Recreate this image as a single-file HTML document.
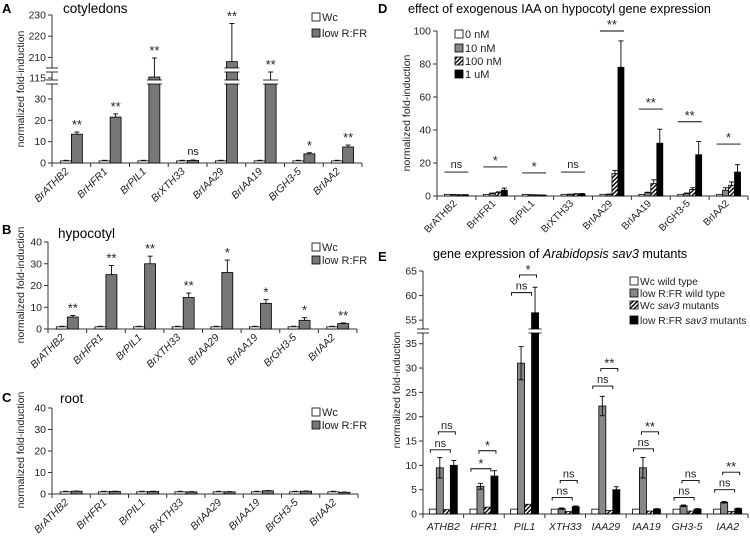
<!DOCTYPE html>
<html><head><meta charset="utf-8"><style>
body{margin:0;background:#fff;}
svg{display:block;font-family:"Liberation Sans",sans-serif;}
</style></head><body>
<svg id="fig" width="750" height="537" viewBox="0 0 750 537">
<defs><pattern id="hatch" width="3" height="3" patternUnits="userSpaceOnUse" patternTransform="rotate(45)"><rect width="3" height="3" fill="#fff"/><rect width="1.4" height="3" fill="#000"/></pattern></defs>
<text x="2" y="13" font-size="13" font-weight="bold">A</text>
<text x="63" y="13" font-size="13.5">cotyledons</text>
<text x="2" y="234" font-size="13" font-weight="bold">B</text>
<text x="58" y="238" font-size="13.5">hypocotyl</text>
<text x="2" y="402" font-size="13" font-weight="bold">C</text>
<text x="60" y="403" font-size="13.5">root</text>
<text x="378" y="13" font-size="13" font-weight="bold">D</text>
<text x="408" y="13" font-size="12.6">effect of exogenous IAA on hypocotyl gene expression</text>
<text x="378" y="261" font-size="13" font-weight="bold">E</text>
<text x="433" y="258" font-size="12.6">gene expression of <tspan font-style="italic">Arabidopsis sav3</tspan> mutants</text>
</svg>
<script>
const genesBr = ["BrATHB2","BrHFR1","BrPIL1","BrXTH33","BrIAA29","BrIAA19","BrGH3-5","BrIAA2"];
const genesE = ["ATHB2","HFR1","PIL1","XTH33","IAA29","IAA19","GH3-5","IAA2"];
// Panel A
const aWc = [1,1,1,1,1,1,1,1];
const aLow = [13.5,21.5,116,1.2,208,109,4.3,7.5];
const aLowErr = [14.5,23,209.7,1.4,226,121,4.8,8.4];
const aSig = ["**","**","**","ns","**","**","*","**"];
const aTicks = [0,10,20,30,115,210,220,230];
// Panel B
const bWc = [1,1,1,1,1,1,1,1];
const bLow = [5.5,25,30,14.5,26,11.8,4,2.5];
const bLowErr = [6.2,29.2,33.5,16.5,31.7,13.5,5.2,2.8];
const bSig = ["**","**","**","**","*","*","*","**"];
const bTicks = [0,10,20,30,40];
// Panel C
const cWc = [1,1,1,1,1,1,1,1];
const cLow = [1.3,1.2,1.2,1,1,1.5,1.3,0.8];
const cLowErr = [1.4,1.3,1.3,1.1,1.1,1.6,1.4,0.9];
const cTicks = [0,10,20,30,40];
// Panel D
const d0 = [1,1,1,1,1,1,1,1];
const d10 = [0.8,1.5,0.7,1,1,2,1.5,3.5];
const d10Err = [0.9,1.8,0.8,1.1,1.2,2.3,1.8,5];
const d100 = [0.7,2,0.6,1.2,13.5,7.5,4,6.5];
const d100Err = [0.8,2.5,0.7,1.4,15.5,9.8,5,8.5];
const d1u = [0.7,3.5,0.5,1.3,78,32,25,14.5];
const d1uErr = [0.8,4.8,0.6,1.5,94,40.5,33,19];
const dSig = ["ns","*","*","ns","**","**","**","*"];
const dSigLevel = [14.5,17.6,14,14.5,101,52.7,45,31.5];
const dTicks = [0,20,40,60,80,100];
// Panel E
const eWcWt = [1,1,1,1,1,1,1,1];
const eLowWt = [9.5,5.7,31,1.1,22.2,9.5,1.7,2.4];
const eLowWtErr = [2.1,0.6,3.4,0.15,2,2.1,0.15,0.15];
const eWcSav = [0.9,1.4,2,0.5,0.7,0.6,0.6,0.5];
const eLowSav = [10,7.8,56.5,1.5,5,1,1,1.1];
const eLowSavErr = [1,1.1,5.2,0.15,0.6,0.1,0.1,0.1];
const eSigLeft = ["ns","*","ns","ns","ns","ns","ns","ns"];
const eSigLeftLevel = [13.2,9.3,60.6,3.4,26.3,13.4,3.4,5];
const eSigRight = ["ns","*","*","ns","**","**","ns","**"];
const eSigRightLevel = [16.9,13,64.2,6.9,29.9,16.9,6.9,8.6];
const eTicks = [0,5,10,15,20,25,30,35,55,60,65];

const svg = document.getElementById('fig');
const NS = 'http://www.w3.org/2000/svg';
function mk(tag, attrs, parent){const e=document.createElementNS(NS,tag);for(const k in attrs)e.setAttribute(k,attrs[k]);(parent||svg).appendChild(e);return e;}
function makeScale(segs){return function(v){for(const s of segs){if(v>=s[0]&&v<=s[1])return s[2]+(v-s[0])/(s[1]-s[0])*(s[3]-s[2]);}
 for(let i=0;i<segs.length;i++){if(v<segs[i][0])return segs[i][2];}const s=segs[segs.length-1];return s[3];};}
function breakMark(x1,x2,y,name){const g=mk('g',{});
 
 
 mk('rect',{x:x1,y:y-2,width:x2-x1,height:4,fill:'#fff'},g);
 mk('line',{x1:x1,x2:x2,y1:y-2,y2:y-2,stroke:'#000','stroke-width':0.8},g);
 mk('line',{x1:x1,x2:x2,y1:y+2,y2:y+2,stroke:'#000','stroke-width':0.8},g);}
function axes(p){
 const g=mk('g',{});
 
 
 mk('line',{x1:p.x0,x2:p.x0,y1:p.yTop,y2:p.y0,stroke:'#333','stroke-width':1},g);
 mk('line',{x1:p.x0,x2:p.x1,y1:p.y0,y2:p.y0,stroke:'#333','stroke-width':1},g);
 p.ticks.forEach(t=>{const y=p.sy(t);mk('line',{x1:p.x0-4,x2:p.x0,y1:y,y2:y,stroke:'#333'},g);
  const tx=mk('text',{x:p.x0-6,y:y+3.5,'font-size':10.5,'text-anchor':'end',fill:'#222'},g);tx.textContent=t;
  
  });
 const gw=(p.x1-p.x0)/8;
 for(let i=0;i<=8;i++){const x=p.x0+gw*i;mk('line',{x1:x,x2:x,y1:p.y0,y2:p.y0+4,stroke:'#333'},g);}
 const yl=mk('text',{x:0,y:0,'font-size':10.5,'text-anchor':'middle',fill:'#222',transform:`translate(${p.ylx},${p.yly}) rotate(-90)`},g);
 yl.textContent='normalized fold-induction';
 
 
 return gw;}
function rect(x,y0,y1,w,fill,name){const r=mk('rect',{x:x,y:Math.min(y0,y1),width:w,height:Math.abs(y1-y0),fill:fill,stroke:'#000','stroke-width':0.8});
 
 return r;}
function err(x,yA,yB){mk('line',{x1:x,x2:x,y1:yA,y2:yB,stroke:'#000','stroke-width':0.9});mk('line',{x1:x-2.5,x2:x+2.5,y1:yB,y2:yB,stroke:'#000','stroke-width':0.9});}
function txt(x,y,s,size,anchor,extra){const t=mk('text',Object.assign({x:x,y:y,'font-size':size,'text-anchor':anchor||'middle',fill:'#222'},extra||{}));t.textContent=s;return t;}
function legend2(x,y1,y2){[['#fff','Wc',y1],['#777','low R:FR',y2]].forEach(l=>{
 const b=mk('rect',{x:x,y:l[2]-4,width:8,height:8,fill:l[0],stroke:'#000','stroke-width':0.8});
 
 
 const t=txt(x+10,l[2]+4,l[1],11,'start');
 
 });}
function twoBarPanel(p,wc,low,lowErr,sig){
 const gw=axes(p);
 genesBr.forEach((gname,i)=>{const gc=p.x0+gw*(i+0.5);
  rect(gc-11,p.y0,p.sy(wc[i]),11,'#fff','bar-wc-'+gname);
  rect(gc,p.y0,p.sy(low[i]),11,'#777','bar-lowrfr-'+gname);
  err(gc+5.5,p.sy(low[i]),p.sy(lowErr[i]));
  mk('line',{x1:gc-8,x2:gc-3,y1:p.sy(wc[i]*1.1)-0.5,y2:p.sy(wc[i]*1.1)-0.5,stroke:'#000','stroke-width':0.6});
  if(sig){const t=txt(gc+5.5,p.sy(lowErr[i])-(sig[i]==='ns'?5:3),sig[i],sig[i]==='ns'?11:13);
   
   }
  const lb=txt(0,0,gname,10.5,'end',{transform:`translate(${gc-2},${p.y0+9}) rotate(-45)`,'font-style':'italic'});
  
  });
 legend2(p.lx,p.ly1,p.ly2);}

// Panel A
const pA={name:'panel-a',x0:52,x1:362,y0:163,yTop:15,ticks:aTicks,ylx:24,yly:89,lx:312,ly1:17,ly2:33,
 sy:makeScale([[0,37,163,84],[106,121,87,72],[205,230,68,15]])};
twoBarPanel(pA,aWc,aLow,aLowErr,aSig);
breakMark(pA.x0-6,pA.x0+6,82,'axis-break-lower');
breakMark(pA.x0-6,pA.x0+6,70,'axis-break-upper');
{const gw=(pA.x1-pA.x0)/8;
 aLow.forEach((v,i)=>{const gc=pA.x0+gw*(i+0.5);
  if(v>=106)breakMark(gc-2,gc+13,82,'bar-break');
  if(v>=205)breakMark(gc-2,gc+13,70,'bar-break');});}

// Panel B
const pB={name:'panel-b',x0:48,x1:357,y0:329,yTop:242,ticks:bTicks,ylx:24,yly:285,lx:312,ly1:247,ly2:260,
 sy:makeScale([[0,40,329,242]])};
twoBarPanel(pB,bWc,bLow,bLowErr,bSig);

// Panel C
const pC={name:'panel-c',x0:52,x1:358,y0:494,yTop:408,ticks:cTicks,ylx:24,yly:450,lx:312,ly1:412,ly2:425,
 sy:makeScale([[0,40,494,408]])};
twoBarPanel(pC,cWc,cLow,cLowErr,null);

// Panel D
const pD={name:'panel-d',x0:437,x1:748,y0:196,yTop:31,ticks:dTicks,ylx:410,yly:113,sy:makeScale([[0,100,196,31]])};
{const gw=axes(pD);
 genesBr.forEach((gname,i)=>{const gc=pD.x0+gw*(i+0.5);const bw=6;const s=gc-12;
  rect(s,pD.y0,pD.sy(d0[i]),bw,'#fff','bar-0nm-'+gname);
  rect(s+bw,pD.y0,pD.sy(d10[i]),bw,'#888','bar-10nm-'+gname);
  err(s+bw*1.5,pD.sy(d10[i]),pD.sy(d10Err[i]));
  rect(s+bw*2,pD.y0,pD.sy(d100[i]),bw,'url(#hatch)','bar-100nm-'+gname);
  err(s+bw*2.5,pD.sy(d100[i]),pD.sy(d100Err[i]));
  rect(s+bw*3,pD.y0,pD.sy(d1u[i]),bw,'#000','bar-1um-'+gname);
  err(s+bw*3.5,pD.sy(d1u[i]),pD.sy(d1uErr[i]));
  const ly=pD.sy(dSigLevel[i]);
  const ln=mk('line',{x1:gc-12,x2:gc+12,y1:ly,y2:ly,stroke:'#000','stroke-width':0.9});
  
  
  const t=txt(gc,ly-(dSig[i]==='ns'?4:2),dSig[i],dSig[i]==='ns'?11:13);
  
  
  const lb=txt(0,0,gname,10,'end',{transform:`translate(${gc+1},${pD.y0+8}) rotate(-45)`});
  
  });
 [['#fff','0 nM',34],['#888','10 nM',48],['url(#hatch)','100 nM',61],['#000','1 uM',74]].forEach(l=>{
  const b=mk('rect',{x:455,y:l[2]-4,width:8,height:8,fill:l[0],stroke:'#000','stroke-width':0.8});
  
  
  const t=txt(465,l[2]+4,l[1],11,'start');
  
  });}

// Panel E
const pE={name:'panel-e',x0:423,x1:748,y0:514,yTop:271,ticks:eTicks,ylx:400,yly:390,sy:makeScale([[0,37,514,334],[53,65,330,271]])};
{const gw=axes(pE);
 breakMark(pE.x0-6,pE.x0+6,331,'axis-break');
 function bracket(xa,xb,v,lab){const y=pE.sy(v);
  const p=mk('path',{d:`M${xa},${y+3}V${y}H${xb}V${y+3}`,fill:'none',stroke:'#000','stroke-width':0.9});
  
  
  const t=txt((xa+xb)/2,y-(lab==='ns'?3:1),lab,lab==='ns'?11:13);
  
  }
 genesE.forEach((gname,i)=>{const gc=pE.x0+gw*(i+0.5);const bw=7;const s=gc-14;
  rect(s,pE.y0,pE.sy(eWcWt[i]),bw,'#fff','bar-wc-wildtype-'+gname);
  rect(s+bw,pE.y0,pE.sy(eLowWt[i]),bw,'#888','bar-lowrfr-wildtype-'+gname);
  {const x=s+bw*1.5;const a=pE.sy(eLowWt[i]-eLowWtErr[i]),b=pE.sy(eLowWt[i]+eLowWtErr[i]);
   mk('line',{x1:x,x2:x,y1:a,y2:b,stroke:'#000','stroke-width':0.9});
   mk('line',{x1:x-2.5,x2:x+2.5,y1:a,y2:a,stroke:'#000','stroke-width':0.9});
   mk('line',{x1:x-2.5,x2:x+2.5,y1:b,y2:b,stroke:'#000','stroke-width':0.9});}
  rect(s+bw*2,pE.y0,pE.sy(eWcSav[i]),bw,'url(#hatch)','bar-wc-sav3-'+gname);
  rect(s+bw*3,pE.y0,pE.sy(eLowSav[i]),bw,'#000','bar-lowrfr-sav3-'+gname);
  {const x=s+bw*3.5;const a=pE.sy(eLowSav[i]-eLowSavErr[i]),b=pE.sy(eLowSav[i]+eLowSavErr[i]);
   mk('line',{x1:x,x2:x,y1:a,y2:b,stroke:'#000','stroke-width':0.9});
   mk('line',{x1:x-2.5,x2:x+2.5,y1:a,y2:a,stroke:'#000','stroke-width':0.9});
   mk('line',{x1:x-2.5,x2:x+2.5,y1:b,y2:b,stroke:'#000','stroke-width':0.9});}
  if(eLowSav[i]>=53)breakMark(s+bw*3-3,s+bw*4+3,331,'bar-break');
  bracket(s+1,s+21,eSigLeftLevel[i],eSigLeft[i]);
  bracket(s+9,s+26,eSigRightLevel[i],eSigRight[i]);
  const lb=txt(gc,530,gname,10.5,'middle',{'font-style':'italic'});
  
  });
 [['#fff','Wc wild type','',281],['#888','low R:FR wild type','',293],['url(#hatch)','Wc ','sav3',305],['#000','low R:FR ','sav3',320]].forEach((l,k)=>{
  const b=mk('rect',{x:630,y:l[3]-4,width:8,height:8,fill:l[0],stroke:'#000','stroke-width':0.8});
  
  
  const t=txt(640,l[3]+4,'',10.3,'start');
  
  
  if(k<2){t.textContent=l[1];}
  else{const a=mk('tspan',{},t);a.textContent=l[1];const bb=mk('tspan',{'font-style':'italic'},t);bb.textContent=l[2];const c=mk('tspan',{},t);c.textContent=' mutants';}});}
</script>
</body></html>
